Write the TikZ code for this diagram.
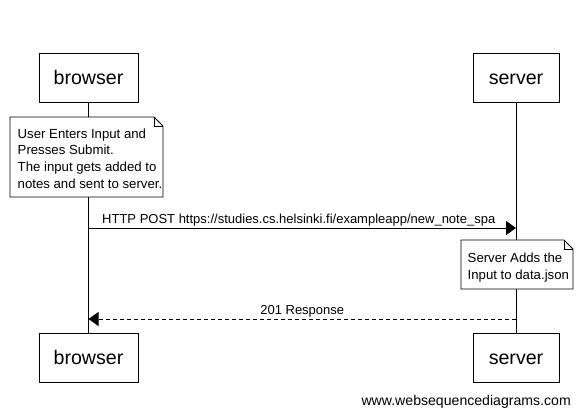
\documentclass[tikz,border=0pt]{standalone}
\usepackage{fontspec}
\setmainfont{Liberation Sans}
\usetikzlibrary{arrows.meta}
\begin{document}
\begin{tikzpicture}[x=1pt,y=-1pt,
  participant/.style={draw,line width=0.9pt,minimum height=49pt,inner sep=0pt,text height=13.6pt,text depth=0pt,font=\fontsize{19.6}{23}\selectfont},
  notetext/.style={align=left,inner sep=0pt,font=\fontsize{13.2}{16.67}\selectfont},
  notebox/.style={draw,line width=0.8pt,fill=white},
  lifeline/.style={line width=0.9pt},
  msglabel/.style={font=\fontsize{13}{15}\selectfont,inner sep=0pt,text depth=0pt},
  msg/.style={line width=0.9pt,-{Triangle[length=10pt,width=14pt]}},
  reply/.style={msg,dash pattern=on 4pt off 3pt}]
\useasboundingbox (0,0) rectangle (581,416);
% participants
\node[participant,minimum width=99pt] (bt) at (88.5,77.5) {browser};
\node[participant,minimum width=86pt] (st) at (516,77.5) {server};
\node[participant,minimum width=99pt] (bb) at (88.5,357.5) {browser};
\node[participant,minimum width=86pt] (sb) at (516,357.5) {server};
% lifelines
\draw[lifeline] (bt.south) -- (bb.north);
\draw[lifeline] (st.south) -- (sb.north);
% note 1
\coordinate (n1a) at (10,117);
\coordinate (n1b) at (163,197);
\draw[notebox] (n1a) -- (154,117) -- (163,126) -- (n1b) -- (10,197) -- cycle;
\draw[line width=0.8pt] (154,117) -- (154,126) -- (163,126);
\node[notetext,anchor=north west] (n1) at (17.5,128.5) {User Enters Input and\\Presses Submit.\\The input gets added to\\notes and sent to server.};
% message 1
\coordinate (m1s) at (88.5,228);
\coordinate (m1e) at (516,228);
\draw[msg] (m1s) -- (m1e) node[msglabel,midway,above=4.5pt,xshift=-3.5pt] (l1) {HTTP POST https://studies.cs.helsinki.fi/exampleapp/new\_note\_spa};
% note 2
\coordinate (n2a) at (461,240);
\coordinate (n2b) at (573,289);
\draw[notebox] (n2a) -- (564,240) -- (573,249) -- (n2b) -- (461,289) -- cycle;
\draw[line width=0.8pt] (564,240) -- (564,249) -- (573,249);
\node[notetext,anchor=north west] (n2) at (467.5,253) {Server Adds the\\Input to data.json};
% message 2
\coordinate (m2s) at (516,319);
\coordinate (m2e) at (88.5,319);
\draw[reply] (m2s) -- (m2e) node[msglabel,midway,above=4.5pt] (l2) {201 Response};
% footer
\node[font=\fontsize{14.1}{16}\selectfont,anchor=east,inner sep=0pt] (ft) at (571,402) {www.websequencediagrams.com};
\end{tikzpicture}
\end{document}
